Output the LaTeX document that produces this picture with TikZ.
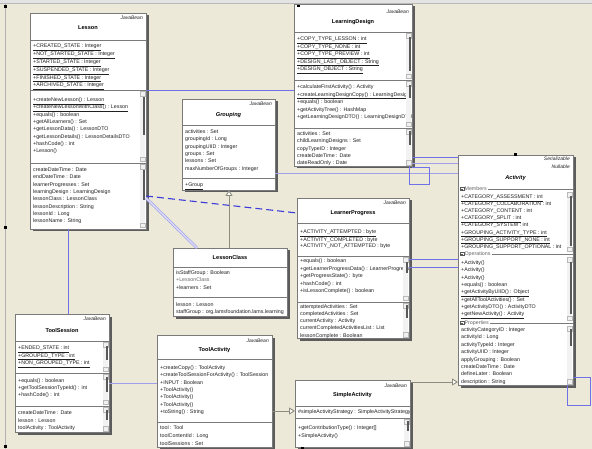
\documentclass[tikz,border=0pt]{standalone}
\usepackage{fontspec}
\setmainfont{Liberation Sans}
\usetikzlibrary{arrows.meta}
\definecolor{bgc}{HTML}{ECE9D8}
\definecolor{assoc}{RGB}{112,112,232}
\definecolor{assocl}{RGB}{160,160,236}
\definecolor{assocd}{RGB}{60,60,220}
\definecolor{genc}{RGB}{140,140,128}
\definecolor{bordc}{HTML}{7A7A7A}
\definecolor{shadc}{HTML}{5C5C5C}
\definecolor{txtc}{HTML}{202020}
\tikzset{
 classbox/.style={draw=bordc, line width=0.8pt, fill=white, inner sep=0pt, outer sep=0pt},
 rowtxt/.style={anchor=north west, inner sep=0pt, align=left, text=txtc, font=\fontsize{5.3}{7.3}\selectfont},
 stereo/.style={anchor=north east, inner sep=0pt, align=right, text=txtc, font=\itshape\fontsize{5}{7.5}\selectfont},
 cname/.style={inner sep=0pt, text=black, font=\bfseries\fontsize{5.6}{6.5}\selectfont},
 divc/.style={draw=bordc, line width=0.6pt},
 scrl/.style={draw=gray!55, line width=0.3pt, fill=gray!12},
 scrthumb/.style={fill=gray!70!black},
 assocline/.style={draw=assoc, line width=0.8pt},
 lightline/.style={draw=assocl, line width=0.8pt},
 dashline/.style={draw=assocd, line width=1.1pt, dash pattern=on 7pt off 4pt},
 dblline/.style={draw=assocl, line width=0.7pt, double=assocl!35, double distance=1.3pt},
 genline/.style={draw=genc, line width=0.9pt, -{Triangle[length=6pt,width=7pt,fill=white]}},
 grplbl/.style={anchor=west, inner xsep=1pt, inner ysep=0.5pt, fill=white, text=gray!80!black, font=\fontsize{5.3}{6}\selectfont},
 handle/.style={fill=black}
}
\newcommand\classframe[5]{%
  \fill[shadc] (#2+2.5,#3+2.5) rectangle (#4+2.5,#5+2.5);
  \node[classbox, minimum width=#4pt-#2pt, minimum height=#5pt-#3pt, anchor=north west] (#1) at (#2,#3) {};}
\newcommand\scrbar[5]{% x2, y1, y2, thumb1, thumb2
  \fill[white] (#1-6.5,#2) rectangle (#1-0.6,#3);
  \fill[gray!10] (#1-6,#2) rectangle (#1-1,#3);
  \draw[scrl] (#1-6,#2+0.5) rectangle (#1-1,#2+5);
  \draw[scrl] (#1-6,#3-5) rectangle (#1-1,#3-0.5);
  \fill[scrthumb] (#1-2.6,#4) rectangle (#1-1.2,#5);}
\newcommand\grplabel[4]{% x1, x2, y, text
  \draw[divc] (#1,#3) -- (#2,#3);
  \node[grplbl] at (#1+1,#3) {\phantom{M}#4};
  \draw[gray!70!black, line width=0.35pt, fill=white] (#1+2.5,#3-1.6) rectangle (#1+5.7,#3+1.6);
  \draw[gray!70!black, line width=0.35pt] (#1+3.2,#3) -- (#1+5,#3);}
\begin{document}
\begin{tikzpicture}[x=1pt,y=-1pt]
\useasboundingbox (0,0) rectangle (592,449);
\fill[bgc] (0,0) rectangle (592,449);
\fill[gray!22] (0,0) rectangle (592,3.5);
\draw[gray!55, line width=0.6pt] (0,3.8) -- (592,3.8);
\draw[gray!60, line width=0.8pt] (5.5,3.8) -- (5.5,449);

% ---------------- Lesson
\classframe{lesson}{30}{13}{146}{229}
\begin{scope}
\clip (30,13) rectangle (145.5,229);
\node[stereo] (lesson-st) at (143,15.5) {JavaBean};
\node[cname] (lesson-nm) at (88,28) {Lesson};
\node[rowtxt, font=\fontsize{5.3}{6.7}\selectfont] (lesson-a) at (33,44) {\underline{+CREATED\_STATE : Integer}\\\underline{+NOT\_STARTED\_STATE : Integer}\\\underline{+STARTED\_STATE : Integer}\\\underline{+SUSPENDED\_STATE : Integer}\\\underline{+FINISHED\_STATE : Integer}\\\underline{+ARCHIVED\_STATE : Integer}};
\node[rowtxt] (lesson-m) at (33,97.5) {\underline{+createNewLesson() : Lesson}\\\underline{+createNewLessonWithClass() : Lesson}\\+equals() : boolean\\+getAllLearners() : Set\\+getLessonData() : LessonDTO\\+getLessonDetails() : LessonDetailsDTO\\+hashCode() : int\\+Lesson()};
\node[rowtxt] (lesson-p) at (33,167.5) {createDateTime : Date\\endDateTime : Date\\learnerProgresses : Set\\learningDesign : LearningDesign\\lessonClass : LessonClass\\lessonDescription : String\\lessonId : Long\\lessonName : String};
\end{scope}
\draw[divc] (30,40) -- (146,40);
\draw[divc] (30,90) -- (146,90);
\draw[divc] (30,163) -- (146,163);
\scrbar{146}{91}{162}{97}{135}
\scrbar{146}{164}{228}{170}{200}

% ---------------- LearningDesign
\classframe{ld}{294}{4}{412}{166}
\begin{scope}
\clip (294,4) rectangle (411.5,166);
\node[stereo] (ld-st) at (409,9.5) {JavaBean};
\node[cname] (ld-nm) at (353,22) {LearningDesign};
\node[rowtxt, font=\fontsize{5.3}{7.5}\selectfont] (ld-a) at (297,36.5) {\underline{+COPY\_TYPE\_LESSON : int}\\\underline{+COPY\_TYPE\_NONE : int}\\\underline{+COPY\_TYPE\_PREVIEW : int}\\\underline{+DESIGN\_LAST\_OBJECT : String}\\\underline{+DESIGN\_OBJECT : String}};
\node[rowtxt, font=\fontsize{5.3}{7.5}\selectfont] (ld-m) at (297,84.5) {+calculateFirstActivity() : Activity\\\underline{+createLearningDesignCopy() : LearningDesign}\\+equals() : boolean\\+getActivityTree() : HashMap\\+getLearningDesignDTO() : LearningDesignDTO};
\node[rowtxt, font=\fontsize{5.3}{7.3}\selectfont] (ld-p) at (297,131.5) {activities : Set\\childLearningDesigns : Set\\copyTypeID : Integer\\createDateTime : Date\\dateReadOnly : Date};
\end{scope}
\draw[divc] (294,32) -- (412,32);
\draw[divc] (294,80) -- (412,80);
\draw[divc] (294,128) -- (412,128);
\scrbar{412}{33}{79}{37}{71}
\scrbar{412}{81}{127}{85}{98}
\scrbar{412}{129}{165.5}{131}{145}

% ---------------- Grouping
\classframe{grouping}{182}{99}{275}{190}
\begin{scope}
\clip (182,99) rectangle (274.5,190);
\node[stereo] (gr-st) at (272,102) {JavaBean};
\node[cname, font=\bfseries\itshape\fontsize{5.6}{6.5}\selectfont] (gr-nm) at (228.5,115) {Grouping};
\node[rowtxt] (gr-a) at (185,129.5) {activities : Set\\groupingId : Long\\groupingUIID : Integer\\groups : Set\\lessons : Set\\maxNumberOfGroups : Integer};
\node[rowtxt] (gr-m) at (185,182.5) {\underline{+Group}};
\end{scope}
\draw[divc] (182,125) -- (275,125);
\draw[divc] (182,178) -- (275,178);

% ---------------- LessonClass
\classframe{lc}{173}{248}{287}{316}
\begin{scope}
\clip (173,248) rectangle (286.5,316);
\node[cname] (lc-nm) at (230,257.5) {LessonClass};
\node[rowtxt, font=\fontsize{5.3}{7.3}\selectfont] (lc-a) at (176,270.5) {isStaffGroup : Boolean\\\textcolor{gray!80!black}{+LessonClass}\\+learners : Set};
\node[rowtxt, font=\fontsize{5.3}{6.6}\selectfont] (lc-m) at (176,302.5) {lesson : Lesson\\staffGroup : org.lamsfoundation.lams.learning};
\end{scope}
\draw[divc] (173,267) -- (287,267);
\draw[divc] (173,297) -- (287,297);

% ---------------- LearnerProgress
\classframe{lp}{297}{198}{409}{338}
\begin{scope}
\clip (297,198) rectangle (408.5,338);
\node[stereo] (lp-st) at (406,200.5) {JavaBean};
\node[cname] (lp-nm) at (353,213) {LearnerProgress};
\node[rowtxt, font=\fontsize{5.3}{6.3}\selectfont] (lp-a) at (300,229.5) {\underline{+ACTIVITY\_ATTEMPTED : byte}\\+ACTIVITY\_COMPLETED : byte\\+ACTIVITY\_NOT\_ATTEMPTED : byte};
\node[rowtxt, font=\fontsize{5.3}{7.5}\selectfont] (lp-m) at (300,258.5) {+equals() : boolean\\+getLearnerProgressData() : LearnerProgressDTO\\+getProgressState() : byte\\+hashCode() : int\\+isLessonComplete() : boolean};
\node[rowtxt, font=\fontsize{5.3}{7.2}\selectfont] (lp-p) at (300,304.2) {attemptedActivities : Set\\completedActivities : Set\\currentActivity : Activity\\currentCompletedActivitiesList : List\\lessonComplete : Boolean};
\end{scope}
\draw[divc] (297,223) -- (409,223);
\draw[divc] (297,256) -- (409,256);
\draw[divc] (297,302) -- (409,302);
\scrbar{409}{257}{301}{262}{273}
\scrbar{409}{303}{337.5}{305}{318}

% ---------------- Activity
\classframe{act}{458}{155}{573}{385}
\begin{scope}
\clip (458,155) rectangle (572.5,385);
\node[stereo] (act-st) at (570,157) {Serializable\\Nullable};
\node[cname, font=\bfseries\itshape\fontsize{5.6}{6.5}\selectfont] (act-nm) at (515.5,178) {Activity};
\node[rowtxt, font=\fontsize{5.3}{7.1}\selectfont] (act-a) at (461,194.5) {\underline{+CATEGORY\_ASSESSMENT : int}\\+CATEGORY\_COLLABORATION : int\\+CATEGORY\_CONTENT : int\\\underline{+CATEGORY\_SPLIT : int}\\+CATEGORY\_SYSTEM : int\\\underline{+GROUPING\_ACTIVITY\_TYPE : int}\\\underline{+GROUPING\_SUPPORT\_NONE : int}\\+GROUPING\_SUPPORT\_OPTIONAL : int};
\node[rowtxt, font=\fontsize{5.3}{7.3}\selectfont] (act-m) at (461,260.5) {+Activity()\\+Activity()\\+Activity()\\+equals() : boolean\\\underline{+getActivityByUIID() : Object}\\+getAllToolActivities() : Set\\+getActivityDTO() : ActivityDTO\\\underline{+getNewActivity() : Activity}};
\node[rowtxt, font=\fontsize{5.3}{7.4}\selectfont] (act-p) at (461,327.5) {activityCategoryID : Integer\\activityId : Long\\activityTypeId : Integer\\activityUIID : Integer\\applyGrouping : Boolean\\createDateTime : Date\\defineLater : Boolean\\description : String};
\end{scope}
\grplabel{458}{573}{189}{Members}
\grplabel{458}{573}{254}{Operations}
\grplabel{458}{573}{323}{Properties}
\scrbar{573}{192}{252}{196}{246}
\scrbar{573}{257}{321}{262}{314}
\scrbar{573}{326}{384.5}{329}{346}

% ---------------- ToolSession
\classframe{ts}{15}{314}{109}{432}
\begin{scope}
\clip (15,314) rectangle (108.5,432);
\node[stereo] (ts-st) at (106,317) {JavaBean};
\node[cname] (ts-nm) at (62,330) {ToolSession};
\node[rowtxt, font=\fontsize{5.3}{7.5}\selectfont] (ts-a) at (18,345.5) {\underline{+ENDED\_STATE : int}\\\underline{+GROUPED\_TYPE : int}\\\underline{+NON\_GROUPED\_TYPE : int}};
\node[rowtxt, font=\fontsize{5.3}{7}\selectfont] (ts-m) at (18,378.5) {+equals() : boolean\\+getToolSessionTypeId() : int\\+hashCode() : int};
\node[rowtxt, font=\fontsize{5.3}{7.5}\selectfont] (ts-p) at (18,410.5) {createDateTime : Date\\lesson : Lesson\\toolActivity : ToolActivity};
\end{scope}
\draw[divc] (15,341) -- (109,341);
\draw[divc] (15,373) -- (109,373);
\draw[divc] (15,406) -- (109,406);
\scrbar{109}{342}{372}{346}{360}
\scrbar{109}{374}{405}{377}{392}
\scrbar{109}{407}{431.5}{410}{420}

% ---------------- ToolActivity
\classframe{ta}{157}{335}{272}{447}
\begin{scope}
\clip (157,335) rectangle (271.5,447);
\node[stereo] (ta-st) at (269,338.5) {JavaBean};
\node[cname] (ta-nm) at (214.5,350) {ToolActivity};
\node[rowtxt, font=\fontsize{5.3}{7.3}\selectfont] (ta-a) at (160,365.5) {+createCopy() : ToolActivity\\+createToolSessionForActivity() : ToolSession\\+INPUT : Boolean\\+ToolActivity()\\+ToolActivity()\\+ToolActivity()\\+toString() : String};
\node[rowtxt, font=\fontsize{5.3}{8}\selectfont] (ta-p) at (160,425.5) {tool : Tool\\toolContentId : Long\\toolSessions : Set};
\end{scope}
\draw[divc] (157,359) -- (272,359);
\draw[divc] (157,422) -- (272,422);

% ---------------- SimpleActivity
\classframe{sa}{295}{380}{410}{447}
\begin{scope}
\clip (295,380) rectangle (409.5,447);
\node[stereo] (sa-st) at (407,383.5) {JavaBean};
\node[cname] (sa-nm) at (352.5,395) {SimpleActivity};
\node[rowtxt] (sa-a) at (298,409.5) {\#simpleActivityStrategy : SimpleActivityStrategy};
\node[rowtxt, font=\fontsize{5.3}{8}\selectfont] (sa-m) at (298,425.5) {+getContributionType() : Integer[]\\+SimpleActivity()};
\end{scope}
\draw[divc] (295,406) -- (410,406);
\draw[divc] (295,418) -- (410,418);
\scrbar{410}{419}{446.5}{421}{431}

% ---------------- connectors
\draw[assocline] (lesson.east |- 0,90) -- (ld.west |- 0,90);
\draw[dashline] (lesson.east |- 0,196) -- (lp.west |- 0,213);
\draw[dblline] (lesson.east |- 0,198) -- (lc.north -| 197,0);
\draw[genline] (lc.north -| 229,0) -- (grouping.south -| 229,0);
\draw[assocline] (lesson.south -| 68,0) -- (ts.north -| 68,0);
\draw[lightline] (ts.east |- 0,383) -- (ta.west |- 0,383);
\draw[genline] (ta.east |- 0,411) -- (sa.west |- 0,411);
\draw[genline] (sa.east |- 0,382) -- (act.west |- 0,382);
\draw[lightline] (grouping.east |- 0,173) -- (act.west |- 0,173);
\draw[assocline] (ld.east |- 0,157) -- (act.west |- 0,157);
\draw[lightline] (ld.east |- 0,163) -- (act.west |- 0,163);
\coordinate (ldloopA) at (409,184);
\coordinate (ldloopB) at (429,167);
\draw[assocline] (ld.south -| ldloopA) -- (ldloopA) -- (ldloopA -| ldloopB) -- (ldloopB) -- (ld.east |- ldloopB);
\draw[assocline] (lp.east |- 0,259) -- (act.west |- 0,259);
\draw[assocline] (lp.east |- 0,267) -- (act.west |- 0,267);
\coordinate (actloopA) at (590,377);
\coordinate (actloopB) at (567,405);
\draw[assocline] (act.east |- actloopA) -- (actloopA) -- (actloopA |- actloopB) -- (actloopB) -- (act.south -| actloopB);

% ---------------- handles
\fill[handle] (4,5) rectangle (7,8);
\fill[handle] (4,226) rectangle (7,229);
\fill[handle] (4,445) rectangle (7,448);
\fill[handle] (514,153.5) rectangle (516.5,156);
\fill[handle] (297,5) rectangle (299.5,7.5);
\fill[handle] (301,447) rectangle (303.5,449);
\end{tikzpicture}
\end{document}
